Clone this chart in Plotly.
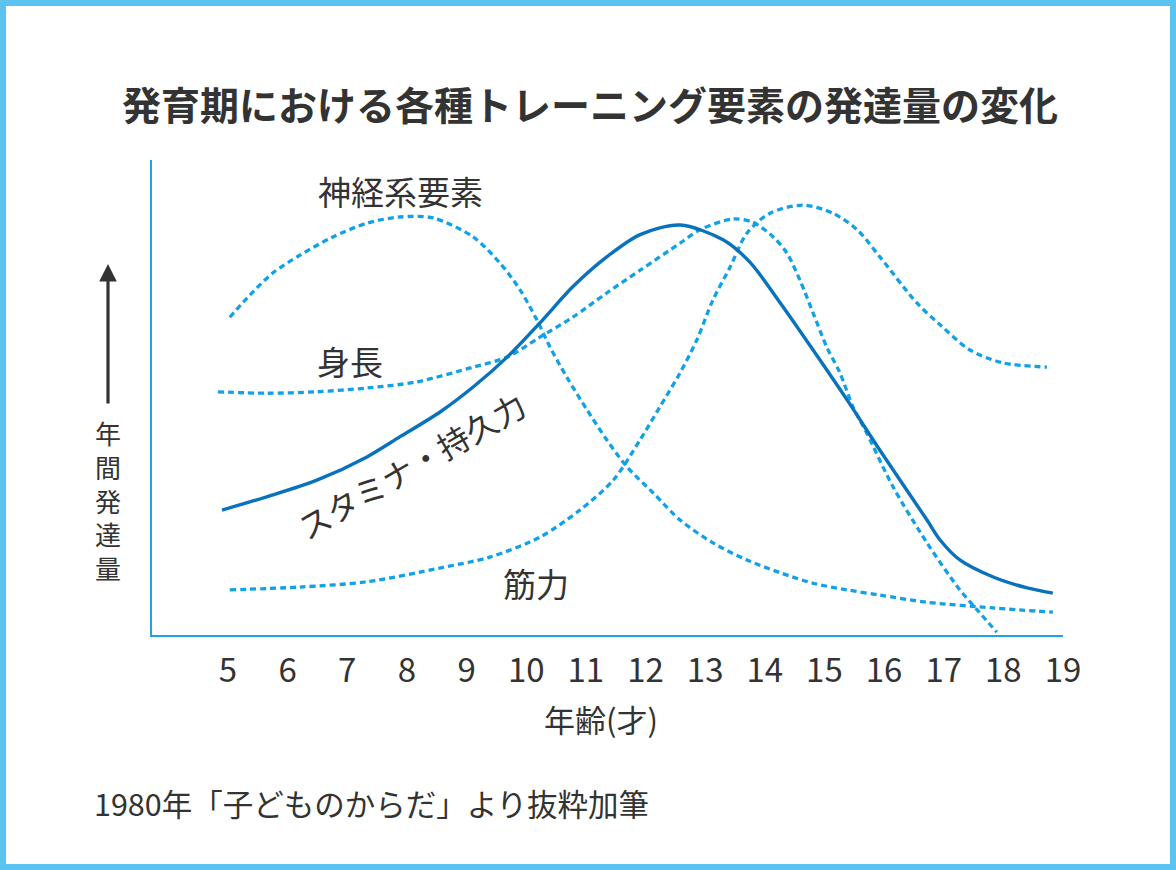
import plotly.graph_objects as go

# ---------------- data ----------------
ages_ticks = [5, 6, 7, 8, 9, 10, 11, 12, 13, 14, 15, 16, 17, 18, 19]
tick_labels = [str(a) for a in ages_ticks]

shinkei_x = [5.03, 5.37, 5.75, 6.21, 6.76, 7.33, 7.88, 8.44, 9.11, 9.56, 9.90, 10.18, 10.40, 10.68, 11.02, 11.35, 11.69, 12.13, 12.58, 13.13, 13.70, 14.26, 14.81, 15.38, 15.93, 16.72, 17.83, 18.83]
shinkei_y = [66.9, 71.6, 76.2, 80.0, 83.8, 86.7, 88.0, 87.8, 83.8, 78.3, 72.6, 66.3, 60.6, 54.3, 47.4, 41.1, 35.4, 29.9, 24.2, 19.4, 15.8, 13.1, 10.9, 9.5, 8.4, 6.9, 5.7, 4.8]

shincho_x = [4.83, 5.65, 6.49, 7.33, 8.17, 9.11, 9.68, 10.23, 10.78, 11.35, 11.91, 12.58, 12.91, 13.47, 13.80, 14.14, 14.37, 14.59, 14.81, 15.04, 15.26, 15.48, 15.71, 16.15, 16.72, 17.27, 17.56, 17.89]
shincho_y = [51.2, 50.9, 51.2, 52.0, 53.3, 56.4, 58.5, 62.7, 66.9, 72.0, 76.8, 82.5, 85.3, 87.6, 86.9, 83.8, 80.4, 74.7, 67.8, 60.6, 55.2, 48.0, 42.5, 31.2, 19.4, 9.5, 5.3, 0.6]

kinryoku_x = [5.03, 6.21, 7.33, 8.55, 9.39, 10.23, 10.90, 11.46, 11.91, 12.24, 12.58, 12.86, 13.13, 13.42, 13.70, 14.09, 14.64, 15.14, 15.55, 15.93, 16.55, 16.94, 17.44, 17.99, 18.73]
kinryoku_y = [9.5, 10.1, 11.2, 14.1, 16.4, 20.6, 26.3, 32.6, 41.1, 48.0, 55.2, 62.1, 70.5, 77.5, 84.6, 88.8, 90.5, 88.8, 85.3, 79.6, 69.9, 65.3, 60.0, 57.3, 56.4]

stamina_x = [4.90, 5.65, 6.49, 7.33, 7.88, 8.55, 9.11, 9.68, 10.23, 10.78, 11.35, 11.91, 12.58, 13.30, 13.75, 14.26, 14.81, 15.38, 15.93, 16.72, 16.94, 17.27, 17.83, 18.40, 18.83]
stamina_y = [26.3, 29.1, 32.6, 37.5, 41.7, 46.9, 52.2, 58.5, 65.7, 73.3, 79.6, 84.3, 86.3, 83.2, 78.5, 69.9, 60.0, 49.5, 38.9, 24.2, 20.0, 15.8, 12.2, 9.9, 8.8]

title_text = "発育期における各種トレーニング要素の発達量の変化"
xlabel_text = "年齢(才)"
ylabel_chars = ["年", "間", "発", "達", "量"]
source_text = "1980年「子どものからだ」より抜粋加筆"

# ---------------- layout constants ----------------
W, H = 1176, 870
L, R, T, B = 152, 113, 160, 235
PW, PH = W - L - R, H - T - B
FONT = "Noto Sans CJK JP"
TXT = "#333333"
DOT = "#12A1E6"
SOLID = "#0972BC"
AXIS = "#1FA3E6"


def px(xp):
    return (xp - L) / PW


def py(yp):
    return (H - B - yp) / PH


def label(text, x, y, size, **kw):
    d = dict(text=text, x=px(x), y=py(y), xref="paper", yref="paper",
             xanchor="center", yanchor="middle", showarrow=False,
             font=dict(family=FONT, size=size, color=TXT))
    d.update(kw)
    return d


fig = go.Figure()
dotted = dict(color=DOT, width=3.3, dash="6px,4px", shape="spline", smoothing=0.85)
fig.add_trace(go.Scatter(x=shinkei_x, y=shinkei_y, mode="lines", line=dotted))
fig.add_trace(go.Scatter(x=shincho_x, y=shincho_y, mode="lines", line=dotted))
fig.add_trace(go.Scatter(x=kinryoku_x, y=kinryoku_y, mode="lines", line=dotted))
fig.add_trace(go.Scatter(x=stamina_x, y=stamina_y, mode="lines",
                         line=dict(color=SOLID, width=3.4, shape="spline", smoothing=0.85)))

ann = []
ann.append(label(title_text, 590, 103, 39,
                 font=dict(family=FONT, size=39, color=TXT, weight="bold")))
ann.append(label("神経系要素", 400, 191, 33))
ann.append(label("身長", 350, 361, 33))
ann.append(label("筋力", 536, 583, 33))
ann.append(label("スタミナ・持久力", 411, 465, 32, textangle=-30))
ann.append(label(xlabel_text, 601, 718, 31))
ann.append(label(source_text, 92, 803, 30.5, xanchor="left"))
ann.append(label("<br>".join(ylabel_chars), 108, 500, 26))
# arrow
ann.append(dict(text="", x=px(108), y=py(264), xref="paper", yref="paper",
                ax=0, ay=141, axref="pixel", ayref="pixel",
                showarrow=True, arrowhead=2, arrowsize=1.1, arrowwidth=3.2, arrowcolor=TXT))

fig.update_layout(
    width=W, height=H,
    margin=dict(l=L, r=R, t=T, b=B, pad=0),
    paper_bgcolor="white", plot_bgcolor="white",
    showlegend=False,
    annotations=ann,
    shapes=[dict(type="rect", xref="paper", yref="paper",
                 x0=px(3), x1=px(W - 3), y0=py(H - 3), y1=py(3),
                 line=dict(color="#5BC3F0", width=6), layer="below")],
    xaxis=dict(range=[3.726, 19.0], tickmode="array", tickvals=ages_ticks, ticktext=tick_labels,
               showgrid=False, zeroline=False, showline=True, linecolor=AXIS, linewidth=1.6,
               ticks="", tickfont=dict(family=FONT, size=33, color=TXT), ticklabelstandoff=6),
    yaxis=dict(range=[0, 100], showticklabels=False, showgrid=False, zeroline=False,
               showline=True, linecolor=AXIS, linewidth=1.6, ticks=""),
)

fig.write_html("out.html", config={"displayModeBar": False},
               post_script="document.body.style.margin='0px';")
